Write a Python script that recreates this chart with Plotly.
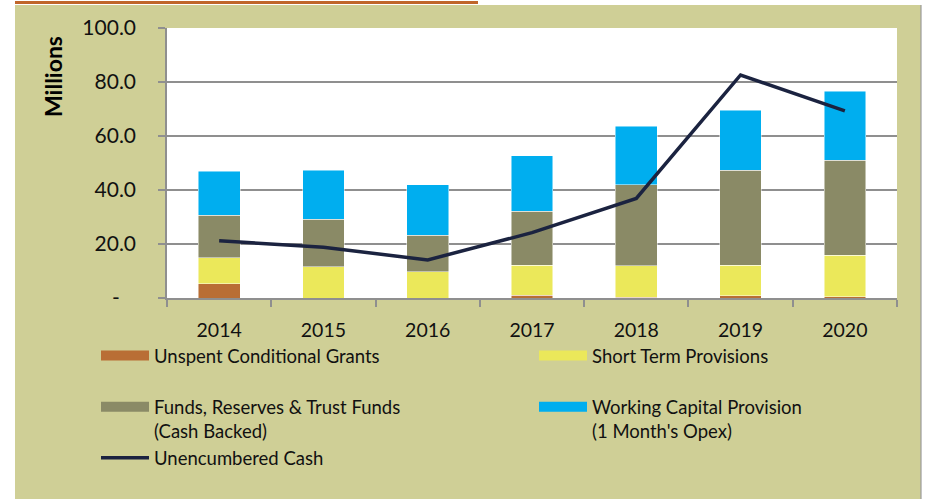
import plotly.graph_objects as go

years = ["2014", "2015", "2016", "2017", "2018", "2019", "2020"]
unspent_grants = [5.2, 0.0, 0.0, 1.1, 0.2, 0.9, 0.5]
short_term = [9.7, 11.5, 9.7, 11.0, 11.7, 11.3, 15.3]
funds_reserves = [15.8, 17.6, 13.6, 20.0, 30.0, 35.2, 35.3]
working_capital = [16.3, 18.3, 18.7, 20.5, 21.7, 22.2, 25.5]
unencumbered = [21.2, 18.8, 14.1, 24.2, 36.9, 82.6, 69.3]

y_tickvals = [0, 20, 40, 60, 80, 100]
y_ticktext = ["-\u00a0\u00a0\u00a0", "20.0", "40.0", "60.0", "80.0", "100.0"]

names = [
    "Unspent Conditional Grants<br>\u00a0",
    "Short Term Provisions<br>\u00a0",
    "Funds, Reserves & Trust Funds<br>(Cash Backed)",
    "Working Capital Provision<br>(1 Month's Opex)",
    "Unencumbered Cash",
]
colors = ["#B96E35", "#EBE85A", "#8A8A66", "#00AEEF"]
line_color = "#1B2340"
bg = "#CFCF96"
grid = "#8F8F8F"
FONT = "Lato"

W, H = 926, 499
L, R, T, B = 167, 897, 28, 298


def px_x(p):
    return (p - L) / (R - L)


def px_y(p):
    return (B - p) / (B - T)


fig = go.Figure()
series = [unspent_grants, short_term, funds_reserves, working_capital]
for vals, col in zip(series, colors):
    fig.add_trace(go.Bar(x=years, y=vals, marker=dict(color=col, line=dict(color="rgba(255,255,255,0.6)", width=0.8)),
                         width=0.4, showlegend=False, hoverinfo="y"))

fig.add_trace(go.Scatter(x=years, y=unencumbered, mode="lines", line=dict(color=line_color, width=3.5),
                         showlegend=False))

# legend-only entries
for nm, col in zip(names[:4], colors):
    fig.add_trace(go.Scatter(x=[None], y=[None], mode="lines", name=nm,
                             line=dict(color=col, width=11)))
fig.add_trace(go.Scatter(x=[None], y=[None], mode="lines", name=names[4],
                         line=dict(color=line_color, width=3.5)))

shapes = [
    # white strips outside the olive panel
    dict(type="rect", xref="paper", yref="paper", x0=px_x(-5), x1=px_x(15), y0=px_y(H + 5), y1=px_y(-5),
         fillcolor="white", line=dict(width=0), layer="above"),
    dict(type="rect", xref="paper", yref="paper", x0=px_x(-5), x1=px_x(W + 5), y0=px_y(5), y1=px_y(-5),
         fillcolor="white", line=dict(width=0), layer="above"),
    dict(type="rect", xref="paper", yref="paper", x0=px_x(921), x1=px_x(W + 5), y0=px_y(H + 5), y1=px_y(-5),
         fillcolor="white", line=dict(width=0), layer="above"),
    dict(type="line", xref="paper", yref="paper", x0=px_x(921), x1=px_x(921), y0=px_y(5), y1=px_y(H),
         line=dict(color="#9A9A9A", width=1.2)),
    dict(type="line", xref="paper", yref="paper", x0=px_x(15), x1=px_x(478), y0=px_y(2.5), y1=px_y(2.5),
         line=dict(color="#C0652A", width=3)),
]

fig.update_layout(
    width=W, height=H,
    margin=dict(l=L, r=W - R, t=T, b=H - B, pad=0, autoexpand=False),
    paper_bgcolor=bg, plot_bgcolor="white",
    barmode="stack",
    font=dict(family=FONT, color="#111111"),
    shapes=shapes,
    xaxis=dict(type="category", tickson="boundaries", ticks="outside", ticklen=7, tickcolor=grid, tickwidth=1.5,
               showline=True, linecolor=grid, linewidth=1.5, showgrid=False,
               tickfont=dict(size=19.5, family=FONT, color="#111111"), ticklabelstandoff=14),
    yaxis=dict(range=[0, 100], tickvals=y_tickvals, ticktext=y_ticktext, ticks="outside", ticklen=7,
               tickcolor=grid, tickwidth=1.5, showline=True, linecolor=grid, linewidth=1.5,
               showgrid=True, gridcolor=grid, gridwidth=1.5, zeroline=False,
               tickfont=dict(size=21, family=FONT, color="#111111"), ticklabelstandoff=18),
    legend=dict(orientation="h", x=px_x(96), y=px_y(337), xanchor="left", yanchor="top",
                entrywidth=375, entrywidthmode="pixels", itemwidth=48, valign="top",
                bgcolor="rgba(0,0,0,0)", font=dict(size=18.5, family=FONT, color="#111111"),
                traceorder="normal", tracegroupgap=0),
    annotations=[dict(text="<b>Millions</b>", xref="paper", yref="paper", x=px_x(53), y=px_y(77),
                      textangle=-90, showarrow=False, font=dict(size=23, family=FONT, color="#000000"),
                      xanchor="center", yanchor="middle")],
)

fig.write_html("out.html", config={"displayModeBar": False},
               post_script="document.body.style.margin='0';document.body.style.padding='0';")
